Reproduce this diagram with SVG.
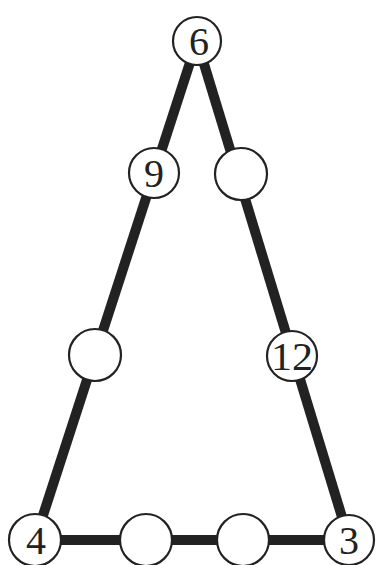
<svg xmlns="http://www.w3.org/2000/svg" width="377" height="565" viewBox="0 0 377 565">
<style>
.edge{stroke:#222;stroke-width:10;fill:none;stroke-linejoin:miter}
.node circle{fill:#fff;stroke:#222;stroke-width:2.2}
.node text{font-family:"Liberation Serif","DejaVu Serif",serif;font-size:40px;fill:#222;text-anchor:middle}
</style>
<rect width="377" height="565" fill="#fff"/>
<g id="connectors">
<line class="edge" x1="197" y1="41" x2="35" y2="540"/>
<line class="edge" x1="197" y1="41" x2="349" y2="540"/>
<line class="edge" x1="35" y1="540" x2="349" y2="540"/>
</g>
<g id="n6" class="node"><circle cx="197" cy="41" r="24"/><text x="199" y="55">6</text></g>
<g id="n9" class="node"><circle cx="154" cy="173" r="25"/><text x="154" y="187">9</text></g>
<g id="nR1" class="node"><circle cx="241" cy="174" r="26"/></g>
<g id="nL1" class="node"><circle cx="95" cy="355" r="26"/></g>
<g id="n12" class="node"><circle cx="292" cy="356" r="25"/><text x="292" y="370" textLength="42" lengthAdjust="spacingAndGlyphs">12</text></g>
<g id="n4" class="node"><circle cx="35" cy="540" r="26"/><text x="36" y="554">4</text></g>
<g id="nB1" class="node"><circle cx="146" cy="540" r="26"/></g>
<g id="nB2" class="node"><circle cx="243" cy="540" r="26"/></g>
<g id="n3" class="node"><circle cx="349" cy="540" r="25"/><text x="349" y="554">3</text></g>
</svg>
